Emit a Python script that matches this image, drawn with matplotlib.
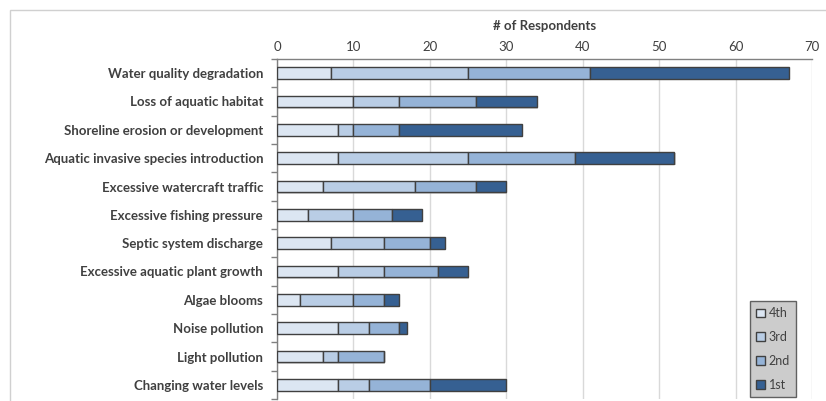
import matplotlib
matplotlib.use("Agg")
import matplotlib.pyplot as plt
from matplotlib.patches import Rectangle, Patch
import numpy as np

categories = ["Water quality degradation", "Loss of aquatic habitat",
              "Shoreline erosion or development", "Aquatic invasive species introduction",
              "Excessive watercraft traffic", "Excessive fishing pressure",
              "Septic system discharge", "Excessive aquatic plant growth",
              "Algae blooms", "Noise pollution", "Light pollution", "Changing water levels"]
fourth = [7, 10, 8, 8, 6, 4, 7, 8, 3, 8, 6, 8]
third = [18, 6, 2, 17, 12, 6, 7, 6, 7, 4, 2, 4]
second = [16, 10, 6, 14, 8, 5, 6, 7, 4, 4, 6, 8]
first = [26, 8, 16, 13, 4, 4, 2, 4, 2, 1, 0, 10]
series_names = ["4th", "3rd", "2nd", "1st"]
colors = ["#dce6f2", "#b9cde5", "#95b3d7", "#366092"]
xticks = [0, 10, 20, 30, 40, 50, 60, 70]

plt.rcParams['font.family'] = ['Lato', 'DejaVu Sans']
W, H = 826, 401
fig = plt.figure(figsize=(W/100, H/100), dpi=100)

# chart border
fig.patches.append(Rectangle((10/W, -0.1), 1.2, (H-10)/H + 0.1, transform=fig.transFigure,
                             fill=False, edgecolor="#d0d0d0", linewidth=1.0))

ax = fig.add_axes([277/W, 1-399/H, 535/W, 340/H])
y = np.arange(len(categories))
left = np.zeros(len(categories))
for vals, name, c in zip([fourth, third, second, first], series_names, colors):
    vals = np.array(vals, dtype=float)
    # shadow
    ax.barh(y + 0.04, vals, left=left + 0.15, height=0.42, color="#a0a0a0", alpha=0.5,
            linewidth=0, zorder=2)
    ax.barh(y, vals, left=left, height=0.42, color=c, edgecolor="#404040",
            linewidth=1.0, label=name, zorder=3)
    left += vals

ax.set_xlim(0, 70)
ax.set_ylim(len(categories) - 0.5, -0.5)
ax.xaxis.tick_top()
ax.xaxis.set_label_position("top")
ax.set_xticks(xticks)
ax.set_xticklabels([str(t) for t in xticks], fontsize=9.5, color="#404040")
ax.tick_params(axis="x", length=0, pad=4)
ax.set_xlabel("# of Respondents", fontsize=9.5, fontweight="bold", color="#404040", labelpad=8)
ax.grid(axis="x", color="#d9d9d9", linewidth=1.0, zorder=0)
ax.set_axisbelow(True)

ax.set_yticks(y)
ax.set_yticklabels(categories, fontsize=9.5, fontweight="bold", color="#404040")
ax.tick_params(axis="y", length=0, pad=10)
ax.set_yticks(np.arange(len(categories) + 1) - 0.5, minor=True)
ax.tick_params(axis="y", which="minor", length=4, color="#808080", width=1)

for s in ["right", "bottom"]:
    ax.spines[s].set_visible(False)
ax.spines["top"].set_color("#808080")
ax.spines["left"].set_color("#808080")
ax.spines["top"].set_linewidth(1.0)
ax.spines["left"].set_linewidth(1.0)

handles = [Patch(facecolor=c, edgecolor="#404040", label=n) for n, c in zip(series_names, colors)]
leg = fig.legend(handles=handles, loc="upper left",
                 bbox_to_anchor=(750/W, 1-301/H), frameon=True, fontsize=9,
                 handlelength=0.7, handleheight=0.7, handletextpad=0.3,
                 labelspacing=0.95, borderpad=0.5, fancybox=False, borderaxespad=0)
leg.get_frame().set_facecolor("#c0c0c0")
leg.get_frame().set_edgecolor("#404040")
leg.get_frame().set_linewidth(1.0)
for t in leg.get_texts():
    t.set_color("#404040")

fig.savefig("out.png", dpi=100)
